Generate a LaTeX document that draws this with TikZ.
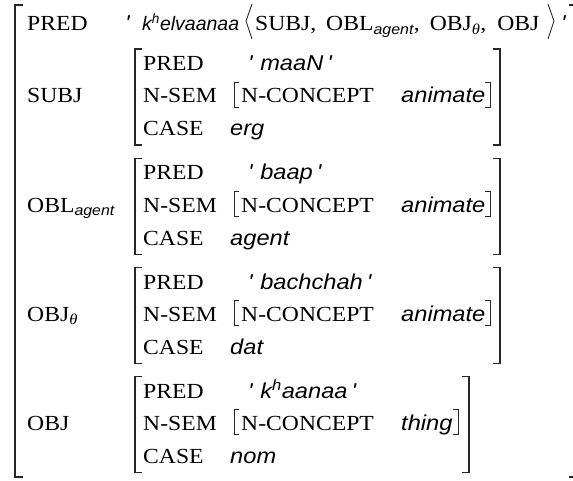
\documentclass[tikz,border=0pt]{standalone}
\usepackage{fontspec}
\setmainfont[FakeStretch=1.1]{Liberation Serif}
\newfontfamily\arial[FakeStretch=1.1]{Liberation Sans}
\newfontfamily\arialn{Liberation Sans}
\begin{document}
\begin{tikzpicture}[x=1pt,y=-1pt,
  lab/.style={anchor=base west, inner sep=0pt, font=\fontsize{21.5}{21.5}\selectfont},
  val/.style={anchor=base west, inner sep=0pt, font=\arial\itshape\fontsize{21.5}{21.5}\selectfont},
  br/.style={line width=1.1pt, black!85},
  sb/.style={line width=0.9pt, black!85}]
\useasboundingbox (0,0) rectangle (573,481);
% outer bracket
\draw[br] (23,5) -- (15,5) -- (15,477) -- (23,477);
\draw[br] (569,5) -- (575,5) -- (575,477) -- (569,477);
% top row
\node[lab] (p0) at (27,31) {PRED};
\node[val] (q0) at (125,31) {\textquotesingle};
\node[anchor=base west, inner sep=0pt, font=\arialn\itshape\fontsize{19.5}{19.5}\selectfont] (v0) at (142,31) {k\textsuperscript{h}elvaanaa};
\draw[sb] (252,4) -- (246,21) -- (252,39);
\node[lab] (args) at (255,31) {SUBJ,\hspace{4pt} OBL\textsubscript{\arial\itshape\fontsize{14.5}{14.5}\selectfont agent},\hspace{4pt} OBJ\textsubscript{\itshape θ},\hspace{5pt} OBJ};
\draw[sb] (548,4) -- (554,21) -- (548,39);
\node[val] (t0) at (561,31) {\textquotesingle};
% blocks
\foreach \i/\lab/\pv/\nv/\cv/\rx/\nbx in {
  0/SUBJ/maaN/animate/erg/500/490,
  1/{OBL\textsubscript{\arial\itshape\fontsize{14.5}{14.5}\selectfont agent}}/baap/animate/agent/500/490,
  2/{OBJ\textsubscript{\itshape θ}}/bachchah/animate/dat/500/490,
  3/OBJ/{k\textsuperscript{h}aanaa}/thing/nom/469/458}{
  \pgfmathsetmacro{\T}{49+109.3*\i}
  \node[lab] (L\i) at (27,\T+54) {\lab};
  \draw[br] (142,\T) -- (135,\T) -- (135,\T+96) -- (142,\T+96);
  \draw[br] (\rx-7,\T) -- (\rx,\T) -- (\rx,\T+96) -- (\rx-7,\T+96);
  \node[lab] (P\i) at (143,\T+21.5) {PRED};
  \node[lab] (N\i) at (143,\T+54) {N-SEM};
  \node[lab] (C\i) at (143,\T+87) {CASE};
  \node[val] (PV\i) at (248,\T+21.5) {\textquotesingle\hspace{8pt}\pv\hspace{4pt}\textquotesingle};
  \draw[sb] (239,\T+33) -- (234,\T+33) -- (234,\T+58) -- (239,\T+58);
  \draw[sb] (\nbx-5,\T+33) -- (\nbx,\T+33) -- (\nbx,\T+58) -- (\nbx-5,\T+58);
  \node[lab] (NC\i) at (241,\T+54) {N-CONCEPT};
  \node[val] (NV\i) at (401,\T+54) {\nv};
  \node[val] (CV\i) at (230,\T+87) {\cv};
}
\end{tikzpicture}
\end{document}
